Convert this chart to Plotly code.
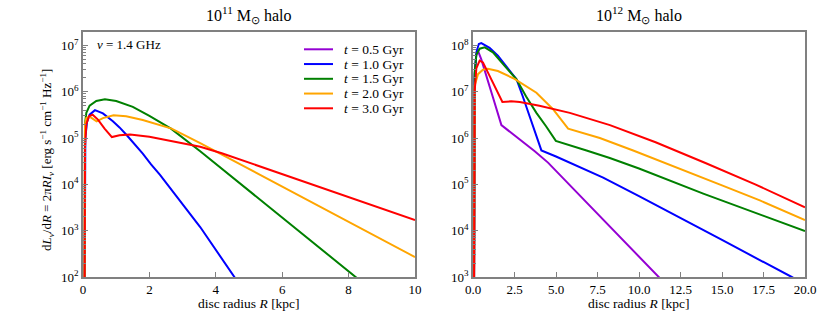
import plotly.graph_objects as go

# ---------------- data: 10^11 Msun halo (left) ----------------
L_blue_R = [0.04, 0.07, 0.12, 0.2, 0.36, 0.6, 0.9, 1.1, 1.32, 1.55, 1.8, 2.05, 2.32, 3.53, 4.56, 4.8]
L_blue_V = [1, 1.0e5, 2.2e5, 3.2e5, 4.0e5, 3.4e5, 2.3e5, 1.7e5, 1.15e5, 7.5e4, 4.6e4, 2.7e4, 1.6e4,
            1.2e3, 1.0e2, 56]

L_green_R = [0.04, 0.06, 0.1, 0.2, 0.4, 0.66, 1.0, 1.5, 2.0, 2.65, 3.53, 8.2, 8.5]
L_green_V = [1, 2.0e5, 3.5e5, 5.0e5, 6.3e5, 6.9e5, 6.3e5, 4.7e5, 3.0e5, 1.6e5, 5.2e4, 1.0e2, 68]

L_orange_R = [0.04, 0.06, 0.1, 0.2, 0.3, 0.41, 0.6, 0.92, 1.3, 1.8, 2.67, 3.53, 10]
L_orange_V = [1, 2.0e5, 2.7e5, 2.9e5, 2.6e5, 2.3e5, 2.7e5, 3.1e5, 2.95e5, 2.45e5, 1.6e5, 7.8e4, 2.7e2]

L_red_R = [0.04, 0.06, 0.1, 0.18, 0.29, 0.45, 0.65, 0.87, 1.1, 1.42, 2.0, 2.92, 3.53, 4.18, 10]
L_red_V = [1, 6.3e4, 2.0e5, 2.95e5, 3.2e5, 2.5e5, 1.6e5, 1.05e5, 1.15e5, 1.2e5, 1.07e5, 7.8e4, 6.5e4, 4.7e4, 1.7e3]

# ---------------- data: 10^12 Msun halo (right) ----------------
R_purple_R = [0.04, 0.1, 0.2, 0.3, 0.5, 0.8, 1.2, 1.71, 2.7, 3.72, 4.52, 7.5, 11.16, 12]
R_purple_V = [1, 2.5e7, 6.3e7, 7.6e7, 5.0e7, 2.3e7, 7.6e6, 1.9e6, 1.0e6, 5.2e5, 2.95e5, 2.3e4, 1.0e3, 5.0e2]

R_blue_R = [0.04, 0.1, 0.2, 0.35, 0.5, 1.0, 1.5, 2.0, 2.62, 3.0, 3.5, 4.12, 5.0, 6.0, 7.84, 10, 12.5, 15, 19.2, 20]
R_blue_V = [1, 2.0e7, 7.1e7, 1.07e8, 1.12e8, 8.9e7, 6.0e7, 3.55e7, 1.86e7, 7.9e6, 2.3e6, 5.4e5, 4.0e5,
            2.8e5, 1.4e5, 5.6e4, 1.9e4, 6.3e3, 1.0e3, 7.1e2]

R_green_R = [0.04, 0.1, 0.2, 0.4, 0.71, 1.2, 1.8, 2.62, 3.2, 3.82, 4.4, 4.99, 6.84, 8.24, 10, 13.87, 20]
R_green_V = [1, 2.5e7, 6.3e7, 8.5e7, 9.1e7, 7.1e7, 4.0e7, 1.86e7, 7.9e6, 3.5e6, 1.8e6, 8.7e5, 5.4e5,
             3.7e5, 2.2e5, 6.3e4, 9.8e3]

R_orange_R = [0.04, 0.08, 0.1, 0.3, 0.6, 0.9, 1.5, 2.5, 3.82, 4.82, 5.73, 7.64, 9.65, 15, 17.28, 20]
R_orange_V = [1, 6.3e6, 1.35e7, 2.4e7, 3.0e7, 3.15e7, 2.8e7, 1.9e7, 9.5e6, 4.2e6, 1.6e6, 1.0e6, 5.4e5,
              9.5e4, 4.5e4, 1.7e4]

R_red_R = [0.04, 0.1, 0.2, 0.4, 0.6, 1.0, 1.4, 1.77, 2.3, 2.82, 4.0, 5.83, 8.25, 11, 14, 17, 20]
R_red_V = [1, 1.0e7, 3.2e7, 4.7e7, 4.3e7, 2.2e7, 1.1e7, 6.0e6, 6.2e6, 6.0e6, 5.0e6, 3.5e6, 1.9e6,
           8.1e5, 2.9e5, 1.0e5, 3.2e4]

legend_labels = ["<i>t</i> = 0.5 Gyr", "<i>t</i> = 1.0 Gyr", "<i>t</i> = 1.5 Gyr",
                 "<i>t</i> = 2.0 Gyr", "<i>t</i> = 3.0 Gyr"]
colors = ["#9400D3", "#0000FF", "#008000", "#FFA500", "#FF0000"]

left_xticks = [0, 2, 4, 6, 8, 10]
right_xticks = [0, 2.5, 5, 7.5, 10, 12.5, 15, 17.5, 20]
right_xtext = ["0.0", "2.5", "5.0", "7.5", "10.0", "12.5", "15.0", "17.5", "20.0"]
left_yexp = [2, 3, 4, 5, 6, 7]
right_yexp = [3, 4, 5, 6, 7, 8]

FONT = "Liberation Serif, Times New Roman, serif"
SPINE = "#808080"
W, H = 830, 315

fig = go.Figure()

left_series = [(L_blue_R, L_blue_V, 1), (L_green_R, L_green_V, 2),
               (L_orange_R, L_orange_V, 3), (L_red_R, L_red_V, 4)]
for R, V, ci in left_series:
    fig.add_trace(go.Scatter(x=R, y=V, mode="lines", line=dict(color=colors[ci], width=2),
                             xaxis="x", yaxis="y", showlegend=False, name=legend_labels[ci]))

right_series = [(R_purple_R, R_purple_V, 0), (R_blue_R, R_blue_V, 1), (R_green_R, R_green_V, 2),
                (R_orange_R, R_orange_V, 3), (R_red_R, R_red_V, 4)]
for R, V, ci in right_series:
    fig.add_trace(go.Scatter(x=R, y=V, mode="lines", line=dict(color=colors[ci], width=2),
                             xaxis="x2", yaxis="y2", showlegend=False, name=legend_labels[ci]))


def minor_vals(e0, e1):
    return [m * 10 ** e for e in range(e0, e1 + 1) for m in range(2, 10)]


def px(x):
    return x / W


def py(y):
    return 1 - y / H


ydom = [py(277), py(32)]
common_x = dict(showline=True, linecolor=SPINE, linewidth=1.5, mirror=True, ticks="inside",
                ticklen=5, tickcolor=SPINE, showgrid=False, zeroline=False,
                tickfont=dict(family=FONT, size=13, color="black"), automargin=False)
common_y = dict(type="log", showline=True, linecolor=SPINE, linewidth=1.5, mirror=True,
                ticks="inside", ticklen=5, tickcolor=SPINE, showgrid=False, zeroline=False,
                tickfont=dict(family=FONT, size=13, color="black"), automargin=False)

annotations = [
    dict(text="10<sup>11</sup> M<sub>⊙</sub> halo", x=px((83 + 415) / 2), y=py(15),
         xref="paper", yref="paper", showarrow=False, xanchor="center", yanchor="middle",
         font=dict(family=FONT, size=16, color="black")),
    dict(text="10<sup>12</sup> M<sub>⊙</sub> halo", x=px((473 + 805) / 2), y=py(15),
         xref="paper", yref="paper", showarrow=False, xanchor="center", yanchor="middle",
         font=dict(family=FONT, size=16, color="black")),
    dict(text="disc radius <i>R</i> [kpc]", x=px((83 + 415) / 2), y=py(303.5),
         xref="paper", yref="paper", showarrow=False, xanchor="center", yanchor="middle",
         font=dict(family=FONT, size=13.5, color="black")),
    dict(text="disc radius <i>R</i> [kpc]", x=px((473 + 805) / 2), y=py(303.5),
         xref="paper", yref="paper", showarrow=False, xanchor="center", yanchor="middle",
         font=dict(family=FONT, size=13.5, color="black")),
    dict(text="<i>ν</i> = 1.4 GHz", x=px(95), y=py(45), xref="paper", yref="paper",
         showarrow=False, xanchor="left", yanchor="middle",
         font=dict(family=FONT, size=13, color="black")),
    dict(text="d<i>L</i><sub><i>ν</i></sub>/d<i>R</i> = 2π<i>RI</i><sub><i>ν</i></sub> "
              "[erg s<sup>−1</sup> cm<sup>−1</sup> Hz<sup>−1</sup>]",
         x=px(47), y=py(160), xref="paper", yref="paper", showarrow=False,
         textangle=-90, xanchor="center", yanchor="middle",
         font=dict(family=FONT, size=13, color="black")),
]

# legend (drawn inside the left panel, as in the reference)
shapes = []
for i, (lab, col) in enumerate(zip(legend_labels, colors)):
    yrow = 49.3 + i * 14.75
    shapes.append(dict(type="line", xref="paper", yref="paper", x0=px(304), x1=px(333),
                       y0=py(yrow), y1=py(yrow), line=dict(color=col, width=2)))
    annotations.append(dict(text=lab, x=px(342), y=py(yrow), xref="paper", yref="paper",
                            showarrow=False, xanchor="left", yanchor="middle",
                            font=dict(family=FONT, size=13.5, color="black")))

fig.update_layout(
    width=W, height=H, margin=dict(l=0, r=0, t=0, b=0),
    paper_bgcolor="white", plot_bgcolor="white", showlegend=False,
    xaxis=dict(domain=[px(83), px(415)], range=[0, 10], tickmode="array",
               tickvals=left_xticks, ticktext=[str(v) for v in left_xticks],
               anchor="y", **common_x),
    yaxis=dict(domain=ydom, range=[2, 7.29], tickmode="array",
               tickvals=[10 ** e for e in left_yexp],
               ticktext=["10<sup>%d</sup>" % e for e in left_yexp], anchor="x",
               minor=dict(tickmode="array", tickvals=minor_vals(2, 7), ticks="inside",
                          ticklen=3, tickcolor=SPINE, showgrid=False),
               **common_y),
    xaxis2=dict(domain=[px(473), px(805)], range=[0, 20], tickmode="array",
                tickvals=right_xticks, ticktext=right_xtext, anchor="y2", **common_x),
    yaxis2=dict(domain=ydom, range=[3, 8.29], tickmode="array",
                tickvals=[10 ** e for e in right_yexp],
                ticktext=["10<sup>%d</sup>" % e for e in right_yexp], anchor="x2",
                minor=dict(tickmode="array", tickvals=minor_vals(3, 8), ticks="inside",
                           ticklen=3, tickcolor=SPINE, showgrid=False),
                **common_y),
    annotations=annotations,
    shapes=shapes,
)

fig.write_html("out.html", config={"displayModeBar": False},
               post_script="document.body.style.margin='0px';document.body.style.padding='0px';")
